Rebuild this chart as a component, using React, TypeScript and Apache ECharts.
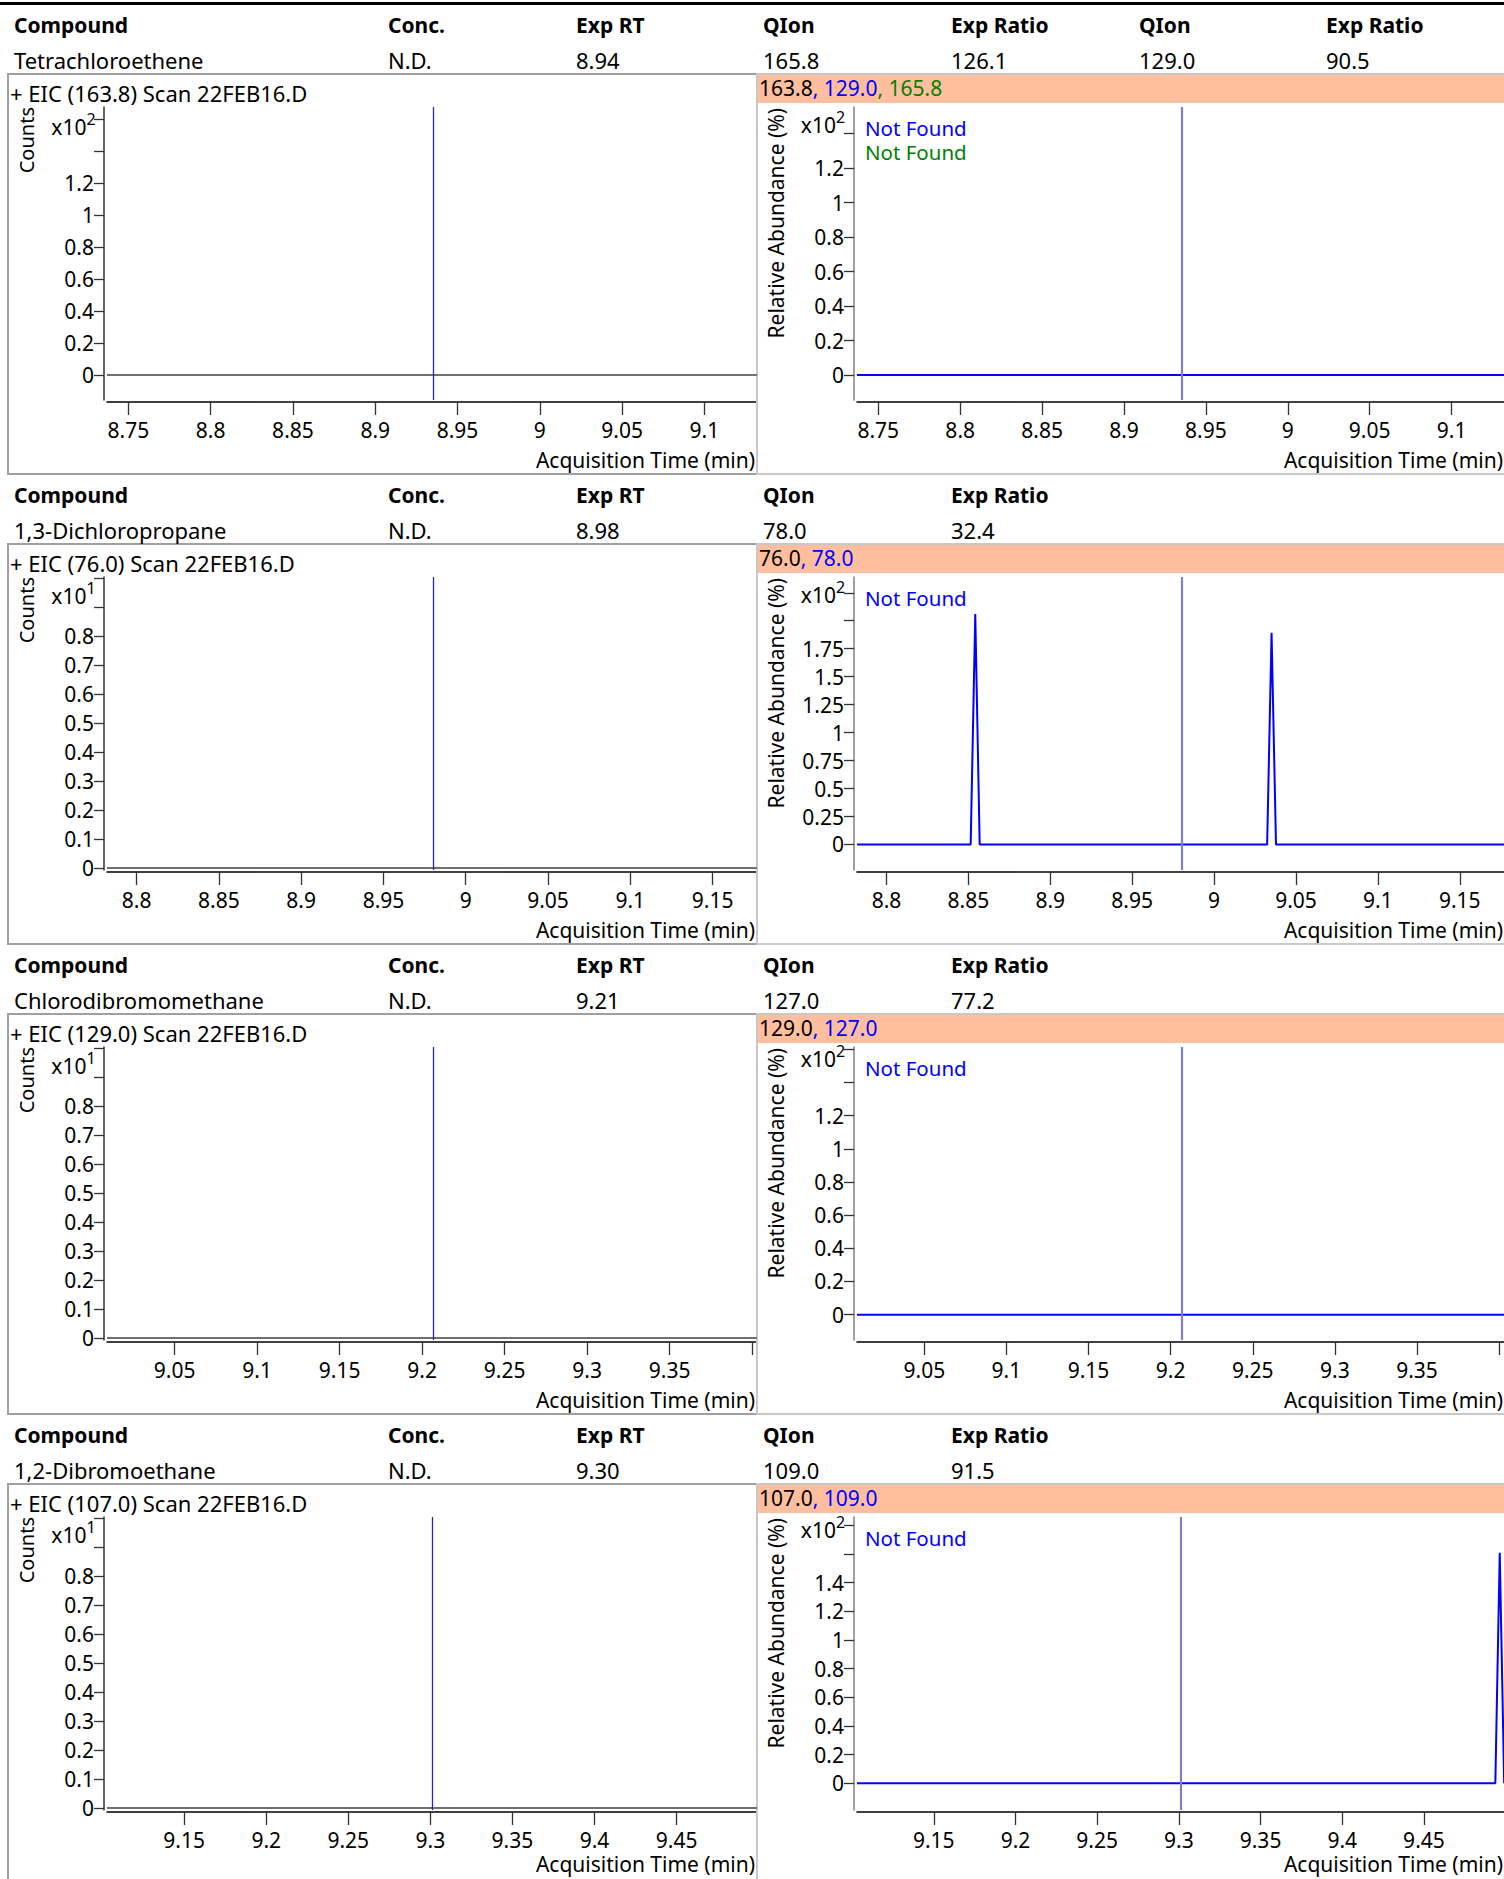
import React, { useEffect, useRef } from 'react';
import * as echarts from 'echarts';

const PAGE_W = 1504;
const PAGE_H = 1879;
const FONT = '"Noto Sans", "DejaVu Sans", sans-serif';

// ---------------- report table ----------------
const headerLabels = ['Compound', 'Conc.', 'Exp RT', 'QIon', 'Exp Ratio', 'QIon', 'Exp Ratio'];
const compounds = ['Tetrachloroethene', '1,3-Dichloropropane', 'Chlorodibromomethane', '1,2-Dibromoethane'];
const concentrations = ['N.D.', 'N.D.', 'N.D.', 'N.D.'];
const expectedRT = ['8.94', '8.98', '9.21', '9.30'];
const qualifierIons = [['165.8', '129.0'], ['78.0'], ['127.0'], ['109.0']];
const expectedRatios = [['126.1', '90.5'], ['32.4'], ['77.2'], ['91.5']];

// ---------------- chromatogram panels ----------------
const scanFile = '22FEB16.D';
const targetIons = ['163.8', '76.0', '129.0', '107.0'];
const overlayBlueIons = ['129.0', '78.0', '127.0', '109.0'];
const overlayGreenIons = ['165.8', '', '', ''];
const markerRT = [8.935, 8.98, 9.207, 9.301];
const timeMin = [8.737, 8.782, 9.009, 9.103];
const timeMax = [9.132, 9.177, 9.403, 9.499];
const timeTicks = [
  [8.75, 8.8, 8.85, 8.9, 8.95, 9, 9.05, 9.1],
  [8.8, 8.85, 8.9, 8.95, 9, 9.05, 9.1, 9.15],
  [9.05, 9.1, 9.15, 9.2, 9.25, 9.3, 9.35, 9.4],
  [9.15, 9.2, 9.25, 9.3, 9.35, 9.4, 9.45],
];
const timeTickLabels = [
  [8.75, 8.8, 8.85, 8.9, 8.95, 9, 9.05, 9.1],
  [8.8, 8.85, 8.9, 8.95, 9, 9.05, 9.1, 9.15],
  [9.05, 9.1, 9.15, 9.2, 9.25, 9.3, 9.35],
  [9.15, 9.2, 9.25, 9.3, 9.35, 9.4, 9.45],
];

// EIC (target ion), counts in units of 10^exponent
const eicExponent = ['2', '1', '1', '1'];
const eicMin = [-0.156, -0.007, -0.007, -0.007];
const eicMax = [1.675, 1.003, 1.003, 1.003];
const eicTicks = [
  [0, 0.2, 0.4, 0.6, 0.8, 1, 1.2, 1.4, 1.6],
  [0, 0.1, 0.2, 0.3, 0.4, 0.5, 0.6, 0.7, 0.8, 0.9, 1],
  [0, 0.1, 0.2, 0.3, 0.4, 0.5, 0.6, 0.7, 0.8, 0.9, 1],
  [0, 0.1, 0.2, 0.3, 0.4, 0.5, 0.6, 0.7, 0.8, 0.9, 1],
];
const eicTickLabels = [
  [0, 0.2, 0.4, 0.6, 0.8, 1, 1.2],
  [0, 0.1, 0.2, 0.3, 0.4, 0.5, 0.6, 0.7, 0.8],
  [0, 0.1, 0.2, 0.3, 0.4, 0.5, 0.6, 0.7, 0.8],
  [0, 0.1, 0.2, 0.3, 0.4, 0.5, 0.6, 0.7, 0.8],
];
const eicTimes = [[8.737, 9.132], [8.782, 9.177], [9.009, 9.403], [9.103, 9.499]];
const eicCounts = [[0, 0], [0, 0], [0, 0], [0, 0]];

// Qualifier overlay, relative abundance in units of 10^2 %
const ratioExponent = ['2', '2', '2', '2'];
const ratioMin = [-0.145, -0.228, -0.153, -0.186];
const ratioMax = [1.554, 2.391, 1.614, 1.858];
const ratioTicks = [
  [0, 0.2, 0.4, 0.6, 0.8, 1, 1.2, 1.4],
  [0, 0.25, 0.5, 0.75, 1, 1.25, 1.5, 1.75, 2, 2.25],
  [0, 0.2, 0.4, 0.6, 0.8, 1, 1.2, 1.4, 1.6],
  [0, 0.2, 0.4, 0.6, 0.8, 1, 1.2, 1.4, 1.6, 1.8],
];
const ratioTickLabels = [
  [0, 0.2, 0.4, 0.6, 0.8, 1, 1.2],
  [0, 0.25, 0.5, 0.75, 1, 1.25, 1.5, 1.75],
  [0, 0.2, 0.4, 0.6, 0.8, 1, 1.2],
  [0, 0.2, 0.4, 0.6, 0.8, 1, 1.2, 1.4],
];
const blueTimes = [
  [8.737, 9.132],
  [8.782, 8.8514, 8.8542, 8.8569, 9.0324, 9.0351, 9.0378, 9.177],
  [9.009, 9.403],
  [9.103, 9.4937, 9.4964, 9.4991],
];
const blueValues = [
  [0, 0],
  [0, 0, 2.06, 0, 0, 1.893, 0, 0],
  [0, 0],
  [0, 0, 1.609, 0],
];
const greenTimes = [[8.737, 9.132], [], [], []];
const greenValues = [[0, 0], [], [], []];

// ---------------- layout ----------------
const BLOCK_TOP = 74;
const BLOCK_STEP = 470;
const COL_X = [14, 388, 576, 763, 951, 1139, 1326];
const eicExpDy = [53, 52, 52, 51];
const ratioExpDy = [51, 51, 45, 46];

const fmt = (v: number) => String(parseFloat(Number(v).toFixed(3)));
const zip = (a: number[], b: number[]) => a.map((t, i) => [t, b[i]]);

function txt(x: number, y: number, text: string, o: any = {}) {
  return {
    type: 'text',
    x,
    y,
    rotation: o.rotation || 0,
    silent: true,
    z: 10,
    style: {
      text,
      fill: o.fill || '#000',
      fontSize: o.size || 21,
      fontFamily: FONT,
      fontWeight: o.weight || 'normal',
      align: o.align || 'left',
      verticalAlign: 'middle',
      rich: o.rich,
    },
  };
}

function xAxis(gi: number, k: number) {
  return {
    type: 'value',
    gridIndex: gi,
    min: timeMin[k],
    max: timeMax[k],
    position: 'bottom',
    offset: 2,
    axisLine: { show: true, onZero: false, lineStyle: { color: '#000', width: 1.5 } },
    axisTick: { show: true, inside: false, length: 13, customValues: timeTicks[k], lineStyle: { color: '#333', width: 1.3 } },
    axisLabel: { show: true, customValues: timeTickLabels[k], formatter: fmt, margin: 17, color: '#000', fontSize: 21, fontFamily: FONT },
    splitLine: { show: false },
  };
}

function yAxis(gi: number, min: number, max: number, ticks: number[], labels: number[], lineColor: string) {
  return {
    type: 'value',
    gridIndex: gi,
    min,
    max,
    position: 'left',
    offset: 3,
    axisLine: { show: true, onZero: false, lineStyle: { color: lineColor, width: 1.5 } },
    axisTick: { show: true, inside: false, length: 10, customValues: ticks, lineStyle: { color: '#333', width: 1.3 } },
    axisLabel: { show: true, customValues: labels, formatter: fmt, margin: 10, color: '#000', fontSize: 21, fontFamily: FONT },
    splitLine: { show: false },
  };
}

function marker(k: number, color: string, width: number) {
  return {
    silent: true,
    precision: 4,
    symbol: ['none', 'none'],
    label: { show: false },
    emphasis: { disabled: true },
    lineStyle: { color, width, type: 'solid' },
    data: [{ xAxis: markerRT[k] }],
  };
}

function buildOption() {
  const grid: any[] = [];
  const xAxes: any[] = [];
  const yAxes: any[] = [];
  const series: any[] = [];
  const g: any[] = [];

  // top rule
  g.push({ type: 'rect', shape: { x: 0, y: 2, width: PAGE_W, height: 3 }, style: { fill: '#000' }, silent: true });

  for (let k = 0; k < 4; k++) {
    const T = BLOCK_TOP + k * BLOCK_STEP;

    // table header + values
    const nCols = 3 + qualifierIons[k].length * 2;
    const values = [compounds[k], concentrations[k], expectedRT[k]];
    qualifierIons[k].forEach((q, i) => values.push(q, expectedRatios[k][i]));
    for (let c = 0; c < nCols; c++) {
      g.push(txt(COL_X[c], T - 49, headerLabels[c], { weight: 'bold' }));
      g.push(txt(COL_X[c], T - 14.5, values[c], { size: 22 }));
    }

    // panel frames
    g.push({ type: 'rect', shape: { x: 8, y: T, width: 749, height: 400 }, style: { fill: 'none', stroke: '#a0a0a0', lineWidth: 2 }, silent: true, z: 1 });
    g.push({ type: 'rect', shape: { x: 757, y: T, width: 760, height: 400 }, style: { fill: 'none', stroke: '#c8c8c8', lineWidth: 2 }, silent: true, z: 1 });
    g.push({ type: 'rect', shape: { x: 758, y: T + 1, width: 746, height: 28 }, style: { fill: '#FFBF9F' }, silent: true, z: 2 });

    // orange bar ion list
    let barText = `{k|${targetIons[k]}}{b|, ${overlayBlueIons[k]}}`;
    if (overlayGreenIons[k]) barText += `{g|, ${overlayGreenIons[k]}}`;
    const rs = { fontSize: 21, fontFamily: FONT };
    g.push(txt(759, T + 14, barText, {
      rich: {
        k: { ...rs, fill: '#000' },
        b: { ...rs, fill: '#0000FF' },
        g: { ...rs, fill: '#008000' },
      },
    }));

    const axisTitleY = Math.min(T + 386, PAGE_H - 15);

    // left panel texts
    g.push(txt(10, T + 19, `+ EIC (${targetIons[k]}) Scan ${scanFile}`, { size: 22 }));
    g.push(txt(26, T + 33, 'Counts', { rotation: Math.PI / 2, align: 'right', size: 20 }));
    g.push(txt(86.5, T + eicExpDy[k], 'x10', { align: 'right' }));
    g.push(txt(86.5, T + eicExpDy[k] - 8.5, eicExponent[k], { size: 16 }));
    g.push(txt(755, axisTitleY, 'Acquisition Time (min)', { align: 'right' }));

    // right panel texts
    g.push(txt(776, T + 34, 'Relative Abundance (%)', { rotation: Math.PI / 2, align: 'right' }));
    g.push(txt(836, T + ratioExpDy[k], 'x10', { align: 'right' }));
    g.push(txt(836, T + ratioExpDy[k] - 8.5, ratioExponent[k], { size: 16 }));
    g.push(txt(865, T + 54, 'Not Found', { fill: '#0000FF', size: 20.5 }));
    if (overlayGreenIons[k]) g.push(txt(865, T + 78, 'Not Found', { fill: '#008000', size: 20.5 }));
    g.push(txt(1503, axisTitleY, 'Acquisition Time (min)', { align: 'right' }));

    // left grid (EIC)
    const li = 2 * k;
    grid.push({ left: 107, top: T + 33, width: 650, height: 293, containLabel: false, outerBoundsMode: 'none' });
    xAxes.push(xAxis(li, k));
    yAxes.push(yAxis(li, eicMin[k], eicMax[k], eicTicks[k], eicTickLabels[k], '#333'));
    series.push({
      type: 'line',
      xAxisIndex: li,
      yAxisIndex: li,
      data: zip(eicTimes[k], eicCounts[k]),
      symbol: 'none',
      silent: true,
      lineStyle: { color: '#707070', width: 2 },
      markLine: marker(k, '#2a2aa8', 1.3),
    });

    // right grid (qualifier overlay)
    const ri = 2 * k + 1;
    grid.push({ left: 857, top: T + 33, width: 647, height: 293, containLabel: false, outerBoundsMode: 'none' });
    xAxes.push(xAxis(ri, k));
    yAxes.push(yAxis(ri, ratioMin[k], ratioMax[k], ratioTicks[k], ratioTickLabels[k], '#808080'));
    if (greenTimes[k].length) {
      series.push({
        type: 'line',
        xAxisIndex: ri,
        yAxisIndex: ri,
        data: zip(greenTimes[k], greenValues[k]),
        symbol: 'none',
        silent: true,
        lineStyle: { color: '#008000', width: 2 },
      });
    }
    series.push({
      type: 'line',
      xAxisIndex: ri,
      yAxisIndex: ri,
      data: zip(blueTimes[k], blueValues[k]),
      symbol: 'none',
      silent: true,
      lineStyle: { color: '#0000FF', width: 2 },
      markLine: marker(k, '#8080c8', 2.2),
    });
  }

  return {
    animation: false,
    backgroundColor: '#ffffff',
    textStyle: { fontFamily: FONT },
    grid,
    xAxis: xAxes,
    yAxis: yAxes,
    series,
    graphic: { elements: g },
  };
}

export default function App() {
  const ref = useRef<HTMLDivElement>(null);
  useEffect(() => {
    document.body.style.margin = '0';
    const chart = echarts.init(ref.current!, null, { renderer: 'svg', width: PAGE_W, height: PAGE_H });
    chart.setOption(buildOption() as any);
    return () => chart.dispose();
  }, []);
  return <div ref={ref} style={{ width: PAGE_W, height: PAGE_H }} />;
}
